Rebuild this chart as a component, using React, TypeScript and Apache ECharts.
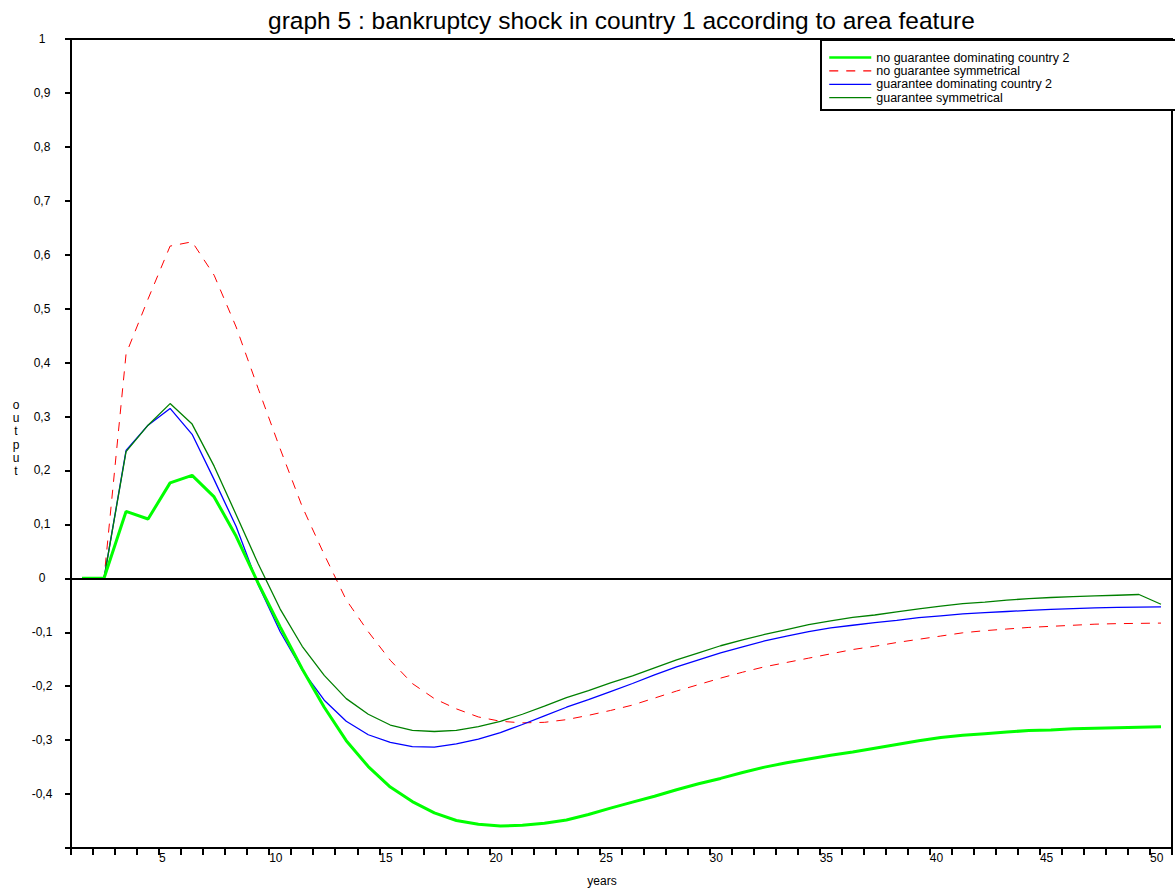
import React, { useEffect, useRef } from "react";
import * as echarts from "echarts";

const years = [1.5, 2.5, 3.5, 4.5, 5.5, 6.5, 7.5, 8.5, 9.5, 10.5, 11.5, 12.5, 13.5, 14.5, 15.5, 16.5, 17.5, 18.5, 19.5, 20.5, 21.5, 22.5, 23.5, 24.5, 25.5, 26.5, 27.5, 28.5, 29.5, 30.5, 31.5, 32.5, 33.5, 34.5, 35.5, 36.5, 37.5, 38.5, 39.5, 40.5, 41.5, 42.5, 43.5, 44.5, 45.5, 46.5, 47.5, 48.5, 49.5, 50.5];

const noGuaranteeDominating = [0, 0, 0.124, 0.11, 0.177, 0.191, 0.151, 0.078, -0.009, -0.09, -0.168, -0.239, -0.301, -0.349, -0.387, -0.414, -0.435, -0.449, -0.456, -0.459, -0.458, -0.454, -0.448, -0.438, -0.426, -0.415, -0.404, -0.392, -0.381, -0.371, -0.36, -0.35, -0.342, -0.335, -0.328, -0.322, -0.315, -0.308, -0.301, -0.295, -0.291, -0.288, -0.285, -0.282, -0.281, -0.279, -0.278, -0.277, -0.276, -0.275];

const noGuaranteeSymmetrical = [0, 0, 0.416, 0.518, 0.616, 0.624, 0.562, 0.466, 0.352, 0.24, 0.133, 0.044, -0.04, -0.099, -0.152, -0.195, -0.223, -0.242, -0.257, -0.265, -0.268, -0.267, -0.262, -0.254, -0.245, -0.235, -0.222, -0.209, -0.197, -0.185, -0.174, -0.164, -0.156, -0.148, -0.14, -0.132, -0.126, -0.119, -0.113, -0.107, -0.101, -0.097, -0.094, -0.091, -0.089, -0.087, -0.085, -0.084, -0.0835, -0.083];

const guaranteeDominating = [0, 0, 0.237, 0.284, 0.315, 0.267, 0.183, 0.096, -0.012, -0.099, -0.17, -0.226, -0.265, -0.29, -0.304, -0.312, -0.313, -0.307, -0.298, -0.286, -0.271, -0.255, -0.239, -0.225, -0.21, -0.195, -0.179, -0.164, -0.151, -0.138, -0.127, -0.116, -0.107, -0.099, -0.092, -0.087, -0.082, -0.078, -0.073, -0.0695, -0.066, -0.0636, -0.0615, -0.0595, -0.0575, -0.056, -0.0548, -0.054, -0.0535, -0.053];

const guaranteeSymmetrical = [0, 0, 0.235, 0.284, 0.324, 0.286, 0.208, 0.118, 0.027, -0.057, -0.126, -0.18, -0.223, -0.252, -0.272, -0.282, -0.284, -0.282, -0.275, -0.265, -0.252, -0.237, -0.221, -0.208, -0.194, -0.181, -0.166, -0.151, -0.138, -0.125, -0.114, -0.104, -0.095, -0.086, -0.079, -0.0725, -0.068, -0.062, -0.0565, -0.0515, -0.047, -0.044, -0.0405, -0.0375, -0.0355, -0.034, -0.0327, -0.0314, -0.03, -0.048];

const seriesNames = [
  "no guarantee dominating country 2",
  "no guarantee symmetrical",
  "guarantee dominating country 2",
  "guarantee symmetrical",
];

const titleText = "graph 5 : bankruptcy shock in country 1 according to area feature";
const FONT = "'Liberation Sans', Arial, sans-serif";

function pairs(vals: number[]) {
  return years.map((x, i) => [x, vals[i]]);
}

export default function App() {
  const ref = useRef<HTMLDivElement>(null);
  useEffect(() => {
    if (!ref.current) return;
    const chart = echarts.init(ref.current, null, { renderer: "svg" });
    chart.setOption({
      animation: false,
      backgroundColor: "#fff",
      textStyle: { fontFamily: FONT },
      title: {
        text: titleText,
        left: 263,
        top: 3,
        textStyle: { fontSize: 24.5, fontWeight: "normal", color: "#000", fontFamily: FONT },
      },
      legend: {
        orient: "vertical",
        left: 828,
        top: 51,
        padding: 0,
        itemWidth: 42,
        itemHeight: 13,
        itemGap: 0.4,
        z: 10,
        selectedMode: false,
        itemStyle: { opacity: 0 },
        textStyle: { fontSize: 12.5, color: "#000", fontFamily: FONT },
        data: [
          { name: seriesNames[0], lineStyle: { width: 2.5 } },
          { name: seriesNames[1], lineStyle: { width: 1.2 } },
          { name: seriesNames[2], lineStyle: { width: 1.3 } },
          { name: seriesNames[3], lineStyle: { width: 1.3 } },
        ],
      },
      graphic: [
        {
          type: "rect",
          z: 5,
          shape: { x: 821, y: 40, width: 380, height: 70 },
          style: { fill: "#fff", stroke: "#000", lineWidth: 2 },
        },
        {
          type: "text",
          x: 16,
          y: 398,
          style: {
            text: "o\nu\nt\np\nu\nt",
            fontSize: 12,
            lineHeight: 13.3,
            align: "center",
            fill: "#000",
            fontFamily: FONT,
          },
        },
        {
          type: "text",
          x: 602,
          y: 875,
          style: { text: "years", fontSize: 12, align: "center", fill: "#000", fontFamily: FONT },
        },
      ],
      grid: {
        left: 71,
        top: 39,
        width: 1105,
        height: 809,
        show: true,
        borderColor: "#000",
        borderWidth: 2,
      },
      xAxis: {
        type: "value",
        min: 1,
        max: 51,
        interval: 1,
        axisLine: { onZero: false, lineStyle: { color: "#000", width: 2 } },
        axisTick: { inside: false, length: 7, lineStyle: { color: "#000", width: 2 } },
        splitLine: { show: false },
        axisLabel: {
          align: "left",
          margin: 4,
          fontSize: 12,
          color: "#000",
          fontFamily: FONT,
          formatter: (v: number) => (v % 5 === 0 && v <= 50 ? String(v) : ""),
        },
      },
      yAxis: {
        type: "value",
        min: -0.5,
        max: 1,
        interval: 0.1,
        axisLine: { show: true, lineStyle: { color: "#000", width: 2 } },
        axisTick: { show: true, inside: false, length: 6, lineStyle: { color: "#000", width: 2 } },
        splitLine: { show: false },
        axisLabel: {
          align: "center",
          margin: 29,
          fontSize: 12,
          color: "#000",
          fontFamily: FONT,
          formatter: (v: number) => {
            const r = Math.round(v * 10) / 10;
            if (r === -0.5) return "";
            return String(r).replace(".", ",");
          },
        },
      },
      series: [
        {
          name: seriesNames[0],
          type: "line",
          data: pairs(noGuaranteeDominating),
          symbol: "none",
          z: 4,
          lineStyle: { color: "#00ff00", width: 3 },
          itemStyle: { color: "#00ff00" },
        },
        {
          name: seriesNames[1],
          type: "line",
          data: pairs(noGuaranteeSymmetrical),
          symbol: "none",
          z: 3,
          lineStyle: { color: "#ff0000", width: 1, type: [9, 8] },
          itemStyle: { color: "#ff0000" },
          markLine: {
            silent: true,
            symbol: ["none", "none"],
            label: { show: false },
            lineStyle: { color: "#000", width: 2, type: "solid" },
            data: [{ yAxis: 0 }],
          },
        },
        {
          name: seriesNames[2],
          type: "line",
          data: pairs(guaranteeDominating),
          symbol: "none",
          z: 3,
          lineStyle: { color: "#0000ff", width: 1.3 },
          itemStyle: { color: "#0000ff" },
        },
        {
          name: seriesNames[3],
          type: "line",
          data: pairs(guaranteeSymmetrical),
          symbol: "none",
          z: 3,
          lineStyle: { color: "#008000", width: 1.3 },
          itemStyle: { color: "#008000" },
        },
      ],
    });
    return () => chart.dispose();
  }, []);
  return (
    <div
      ref={ref}
      style={{ position: "fixed", left: 0, top: 0, width: 1175, height: 893, background: "#fff" }}
    />
  );
}
